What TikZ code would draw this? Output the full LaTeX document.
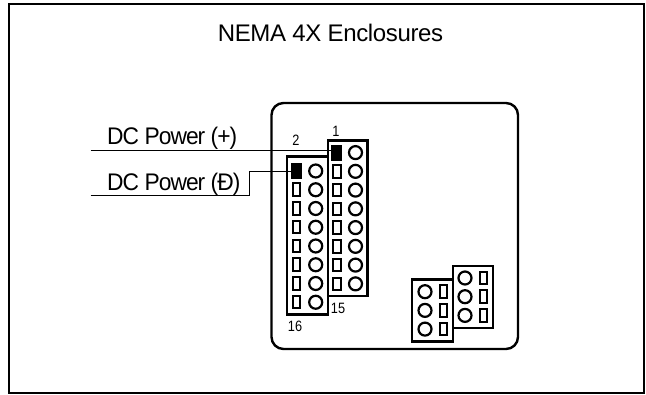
\documentclass[tikz,border=0pt]{standalone}
\usepackage{fontspec}
\setmainfont{Liberation Sans}
\newfontfamily\titlefont[LetterSpace=-1.5]{Liberation Sans}
\newfontfamily\tightfont[FakeStretch=0.95,LetterSpace=-4]{Liberation Sans}
\newfontfamily\narrowfont[FakeStretch=0.85]{Liberation Sans}
\tikzset{
  frameline/.style={draw=black,line width=2pt},
  encl/.style={draw=black,line width=2.4pt,rounded corners=12pt},
  strip/.style={draw=black,line width=2.4pt,fill=white},
  pinsq/.style={draw=black,line width=2pt,fill=white,rectangle,inner sep=0pt,minimum width=7.6pt,minimum height=12.5pt},
  pinfill/.style={draw=none,fill=black,rectangle,inner sep=0pt,minimum width=11pt,minimum height=16pt},
  pinc/.style={draw=black,line width=2.2pt,fill=white,circle,inner sep=0pt,minimum size=13pt},
  title/.style={inner sep=0pt,anchor=base,font=\titlefont\fontsize{24}{26}\selectfont},
  lbl/.style={inner sep=0pt,anchor=base west,font=\tightfont\fontsize{24}{26}\selectfont},
  num/.style={inner sep=0pt,anchor=center,font=\narrowfont\fontsize{15}{17}\selectfont},
  wire/.style={draw=black,line width=0.9pt},
  wireb/.style={draw=black,line width=1.4pt}
}
\begin{document}
\begin{tikzpicture}[x=1pt,y=-1pt]
\useasboundingbox (0,0) rectangle (646,395);
\draw[frameline] (8.5,4.5) rectangle (644,393.5);
\node[title] (ttl) at (330.5,42) {NEMA 4X Enclosures};
\draw[encl] (271.5,103) rectangle (518,349);
% long strips
\draw[strip] (287,156.5) rectangle (328,314.5);
\draw[strip] (328,140.5) rectangle (367.5,296);
\foreach \i in {1,...,8}{
  \pgfmathsetmacro{\ya}{152.6+(\i-1)*18.75}
  \pgfmathsetmacro{\yb}{171+(\i-1)*18.75}
  \ifnum\i=1
    \node[pinfill] (a\i) at (336.2,\ya) {};
    \node[pinfill] (b\i) at (296.7,\yb) {};
  \else
    \node[pinsq] (a\i) at (336.7,\ya) {};
    \node[pinsq] (b\i) at (296.5,\yb) {};
  \fi
  \node[pinc] (ca\i) at (355.5,\ya) {};
  \node[pinc] (cb\i) at (315.7,\yb) {};
}
% small blocks
\draw[strip] (412,279.5) rectangle (453,341.5);
\draw[strip] (453,266) rectangle (493,328);
\foreach \i in {1,2,3}{
  \pgfmathsetmacro{\yc}{291.7+(\i-1)*18.7}
  \pgfmathsetmacro{\yd}{278+(\i-1)*18.7}
  \node[pinc] (cc\i) at (425,\yc) {};
  \node[pinsq] (c\i) at (443.4,\yc) {};
  \node[pinc] (cd\i) at (465,\yd) {};
  \node[pinsq] (d\i) at (483.5,\yd) {};
}
% labels
\node[lbl] (lp) at (107,145) {DC Power (+)};
\node[lbl] (lm) at (107,190.7) {DC Power (Ð)};
\node[num] (n1) at (336,131.7) {1};
\node[num] (n2) at (296,140) {2};
\node[num] (n15) at (338,308) {15};
\node[num] (n16) at (295,326.7) {16};
% connectors
\coordinate (wp) at (90.7,150.3);
\coordinate (wm) at (90.7,195.7);
\coordinate (km) at (249.3,195.7);
\coordinate (kt) at (249.3,171);
\draw[wire] (wp) -- (wp -| a1.west);
\draw[wireb] (wm) -- (km);
\draw[wire] (km) -- (kt) -- (b1.west);
\end{tikzpicture}
\end{document}
